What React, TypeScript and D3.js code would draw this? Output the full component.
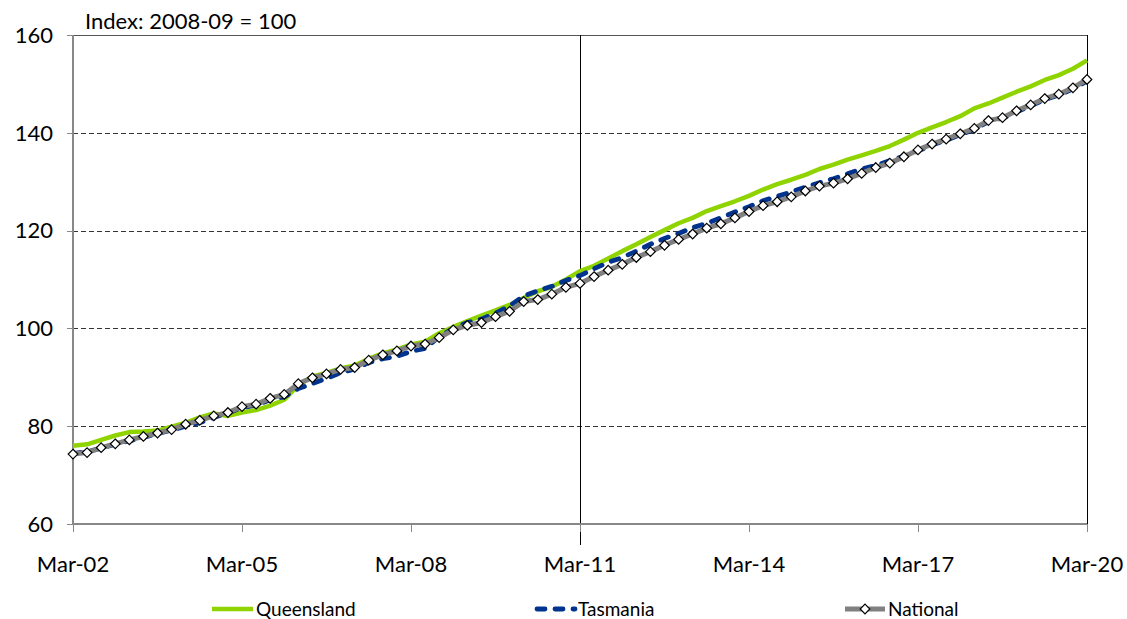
import React from "react";
import * as d3 from "d3";

// Quarterly series, Mar-02 .. Mar-20 (73 quarters)
const tickLabels = ["Mar-02", "Mar-05", "Mar-08", "Mar-11", "Mar-14", "Mar-17", "Mar-20"];
const tickQuarterIdx = [0, 12, 24, 36, 48, 60, 72];
const yTicks = [60, 80, 100, 120, 140, 160];
const gridValues = [80, 100, 120, 140];

const queensland = [
  76.0, 76.3, 77.2, 78.1, 78.8, 78.9, 79.1, 79.9, 80.7, 81.8,
  82.6, 82.1, 82.8, 83.3, 84.2, 85.4, 88.4, 90.2, 90.9, 91.8,
  92.4, 93.8, 94.9, 95.7, 96.7, 97.3, 99.0, 100.3, 101.5, 102.6,
  103.7, 104.8, 106.2, 107.6, 108.5, 110.0, 111.7, 112.8, 114.3, 115.8,
  117.2, 118.7, 120.1, 121.5, 122.6, 124.0, 125.0, 126.0, 127.1, 128.4,
  129.5, 130.4, 131.4, 132.6, 133.5, 134.5, 135.4, 136.3, 137.3, 138.6,
  140.0, 141.1, 142.2, 143.4, 145.0, 146.0, 147.2, 148.4, 149.5, 150.8,
  151.8, 153.1, 154.8,
];

const tasmania = [
  74.4, 74.8, 75.5, 76.3, 77.0, 77.7, 78.5, 79.2, 80.0, 80.7,
  81.8, 82.7, 83.8, 84.3, 85.4, 86.0, 87.7, 88.7, 89.8, 90.9,
  91.7, 93.0, 93.8, 94.3, 95.3, 95.9, 98.3, 100.0, 101.2, 101.9,
  103.1, 104.6, 106.6, 107.7, 108.6, 109.8, 110.8, 112.2, 113.5, 114.5,
  115.8, 117.2, 118.4, 119.4, 120.6, 121.5, 122.6, 123.8, 124.9, 126.1,
  127.0, 127.9, 128.9, 129.8, 130.6, 131.6, 132.6, 133.3, 134.3, 135.2,
  136.3, 137.5, 138.5, 139.6, 140.7, 142.3, 143.0, 144.3, 145.5, 146.8,
  147.7, 149.0, 150.6,
];

const national = [
  74.3, 74.6, 75.6, 76.4, 77.2, 77.9, 78.6, 79.3, 80.4, 81.2,
  82.1, 82.8, 84.0, 84.5, 85.7, 86.5, 88.7, 89.9, 90.7, 91.6,
  92.0, 93.5, 94.6, 95.4, 96.4, 96.8, 98.1, 99.7, 100.6, 101.2,
  102.4, 103.5, 105.5, 105.9, 107.0, 108.4, 109.2, 110.6, 111.9, 113.1,
  114.5, 115.7, 117.0, 118.2, 119.3, 120.5, 121.4, 122.6, 123.9, 125.1,
  125.9, 126.9, 128.1, 129.1, 129.7, 130.6, 131.7, 132.9, 133.8, 135.1,
  136.5, 137.7, 138.7, 139.8, 140.9, 142.5, 143.1, 144.5, 145.7, 147.0,
  147.9, 149.2, 150.9,
];

const seriesNames = ["Queensland", "Tasmania", "National"];
const QLD = "#8FD400";
const TAS = "#00338D";
const NAT = "#808080";
const FONT = "Lato, 'Open Sans', sans-serif";

export default function App() {
  const W = 1127;
  const H = 619;
  const x = d3.scaleLinear().domain([0, national.length - 1]).range([73, 1087]);
  const y = d3.scaleLinear().domain([60, 160]).range([524, 35]);
  const line = d3
    .line<number>()
    .x((_, i) => x(i))
    .y((d) => y(d));

  const diamond = (cx: number, cy: number, r: number) =>
    `M${cx},${cy - r}L${cx + r},${cy}L${cx},${cy + r}L${cx - r},${cy}Z`;

  const midIdx = 36;
  const legendY = 609;
  const legend = [
    { name: seriesNames[0], x0: 212, x1: 253 },
    { name: seriesNames[1], x0: 535, x1: 575 },
    { name: seriesNames[2], x0: 845, x1: 885 },
  ];
  const crisp = (v: number) => Math.round(v) + 0.5;

  return (
    <svg
      width={W}
      height={H}
      style={{ position: "absolute", left: 0, top: 0, background: "#fff" }}
      fontFamily={FONT}
    >
      {/* gridlines */}
      {gridValues.map((v) => (
        <line
          key={v}
          x1={x(0)}
          x2={x(72)}
          y1={crisp(y(v))}
          y2={crisp(y(v))}
          stroke="#333"
          strokeWidth={1}
          strokeDasharray="5,3"
        />
      ))}
      {/* top border */}
      <line x1={x(0)} x2={x(72)} y1={crisp(y(160))} y2={crisp(y(160))} stroke="#555" strokeWidth={1} />
      {/* right border */}
      <line x1={crisp(x(72))} x2={crisp(x(72))} y1={y(160)} y2={y(60)} stroke="#000" strokeWidth={1} />
      {/* vertical Mar-11 line */}
      <line x1={crisp(x(midIdx))} x2={crisp(x(midIdx))} y1={y(160)} y2={545} stroke="#000" strokeWidth={1} />
      {/* y axis */}
      <line x1={x(0)} x2={x(0)} y1={y(160)} y2={y(60)} stroke="#888" strokeWidth={2} />
      {yTicks.map((v) => (
        <g key={v}>
          <line x1={x(0) - 6} x2={x(0)} y1={crisp(y(v))} y2={crisp(y(v))} stroke="#888" strokeWidth={1} />
          <text x={53} y={y(v)} dy="0.35em" textAnchor="end" fontSize={22} fill="#000">
            {v}
          </text>
        </g>
      ))}
      {/* x axis */}
      <line x1={x(0)} x2={x(72)} y1={y(60)} y2={y(60)} stroke="#888" strokeWidth={2} />
      {tickQuarterIdx.map((q, i) => (
        <g key={q}>
          <line x1={crisp(x(q))} x2={crisp(x(q))} y1={y(60)} y2={y(60) + 8} stroke="#888" strokeWidth={1} />
          <text x={x(q)} y={572} textAnchor="middle" fontSize={22} fill="#000">
            {tickLabels[i]}
          </text>
        </g>
      ))}
      {/* title */}
      <text x={85} y={29} fontSize={22} fill="#000">
        Index: 2008-09 = 100
      </text>

      {/* series */}
      <path d={line(queensland) || ""} fill="none" stroke={QLD} strokeWidth={4.5} strokeLinejoin="round" />
      <path
        d={line(tasmania) || ""}
        fill="none"
        stroke={TAS}
        strokeWidth={4.8}
        strokeDasharray="8,10"
        strokeLinecap="round"
      />
      <path d={line(national) || ""} fill="none" stroke={NAT} strokeWidth={5} strokeLinejoin="round" />
      {national.map((v, i) => (
        <path key={i} d={diamond(x(i), y(v), 4.8)} fill="#fff" stroke="#000" strokeWidth={1.2} />
      ))}

      {/* legend */}
      <line x1={legend[0].x0} x2={legend[0].x1} y1={legendY} y2={legendY} stroke={QLD} strokeWidth={4.5} />
      <line
        x1={legend[1].x0 + 2}
        x2={legend[1].x1}
        y1={legendY}
        y2={legendY}
        stroke={TAS}
        strokeWidth={4.8}
        strokeDasharray="8,10"
        strokeLinecap="round"
      />
      <line x1={legend[2].x0} x2={legend[2].x1} y1={legendY} y2={legendY} stroke={NAT} strokeWidth={5} />
      <path
        d={diamond((legend[2].x0 + legend[2].x1) / 2, legendY, 4.8)}
        fill="#fff"
        stroke="#000"
        strokeWidth={1.2}
      />
      {legend.map((l) => (
        <text key={l.name} x={l.x1 + 3} y={legendY} dy="0.35em" fontSize={19} fill="#000">
          {l.name}
        </text>
      ))}
    </svg>
  );
}
